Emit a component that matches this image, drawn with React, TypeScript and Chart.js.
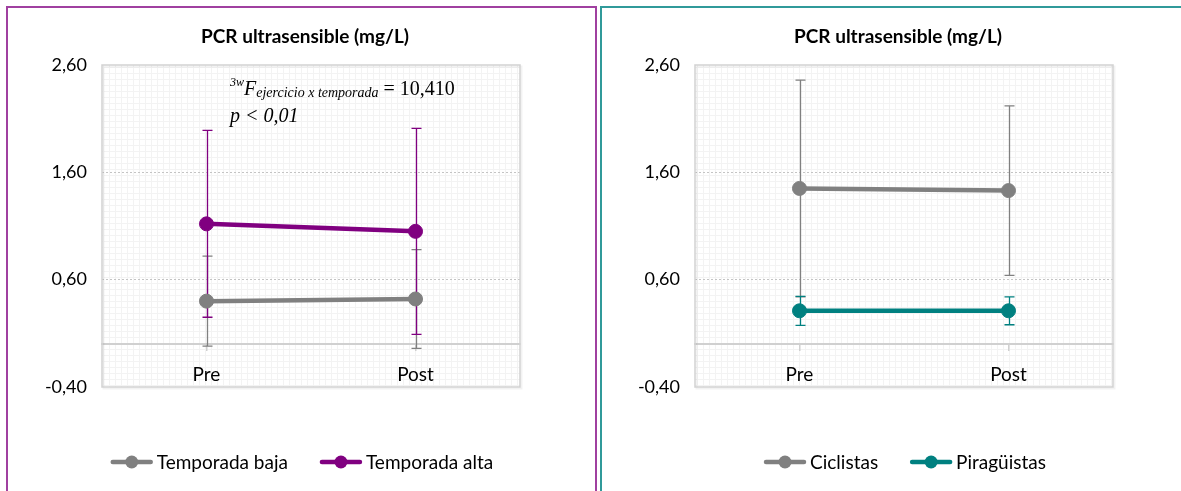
import React, { useEffect, useRef } from 'react';
import { Chart, registerables } from 'chart.js';

Chart.register(...registerables);

// ---------- DATA ----------
const categories = ['Pre', 'Post'];
const yTickValues = [-0.4, 0.6, 1.6, 2.6];
const chartTitle = 'PCR ultrasensible (mg/L)';

// Left chart (season)
const bajaLabel = 'Temporada baja';
const bajaMeans = [0.4, 0.42];
const bajaSD = [0.42, 0.46];
const altaLabel = 'Temporada alta';
const altaMeans = [1.12, 1.05];
const altaSD = [0.87, 0.96];

// Right chart (sport)
const ciclistasLabel = 'Ciclistas';
const ciclistasMeans = [1.45, 1.43];
const ciclistasSD = [1.01, 0.79];
const piraguistasLabel = 'Piragüistas';
const piraguistasMeans = [0.31, 0.31];
const piraguistasSD = [0.135, 0.13];

// ---------- STYLE ----------
const GRAY = '#808080';
const PURPLE = '#800080';
const TEAL = '#008080';
const FONT = 'Lato, "Open Sans", "Noto Sans", sans-serif';

let patternCanvas: HTMLCanvasElement | null = null;
function getPattern(ctx: CanvasRenderingContext2D) {
  if (!patternCanvas) {
    patternCanvas = document.createElement('canvas');
    patternCanvas.width = 6;
    patternCanvas.height = 6;
    const p = patternCanvas.getContext('2d')!;
    p.fillStyle = '#ffffff';
    p.fillRect(0, 0, 6, 6);
    p.fillStyle = '#f3f3f3';
    p.fillRect(5, 0, 1, 6);
    p.fillRect(0, 5, 6, 1);
  }
  return ctx.createPattern(patternCanvas, 'repeat');
}

const plotAreaPlugin = {
  id: 'plotArea',
  beforeDraw(chart: any) {
    const { ctx, chartArea: a } = chart;
    ctx.save();
    ctx.fillStyle = getPattern(ctx) || '#fff';
    ctx.fillRect(a.left, a.top, a.right - a.left, a.bottom - a.top);
    ctx.restore();
  },
  beforeDatasetsDraw(chart: any) {
    const { ctx, chartArea: a } = chart;
    ctx.save();
    ctx.strokeStyle = 'rgba(0,0,0,0.05)';
    ctx.lineWidth = 2;
    ctx.strokeRect(a.left + 1.5, a.top + 1.5, a.right - a.left, a.bottom - a.top);
    ctx.strokeStyle = '#d2d2d2';
    ctx.lineWidth = 1.5;
    ctx.strokeRect(a.left, a.top, a.right - a.left, a.bottom - a.top);
    ctx.restore();
  },
};

const errorBarPlugin = {
  id: 'errorBars',
  beforeDatasetsDraw(chart: any) {
    const ctx = chart.ctx;
    const yScale = chart.scales.y;
    chart.data.datasets.forEach((ds: any, i: number) => {
      const meta = chart.getDatasetMeta(i);
      if (meta.hidden || !ds.errors) return;
      ctx.save();
      ctx.strokeStyle = ds.borderColor;
      ctx.lineWidth = 1.3;
      meta.data.forEach((pt: any, j: number) => {
        const v = ds.data[j];
        const e = ds.errors[j];
        const x = Math.round(pt.x) + 0.5;
        const top = yScale.getPixelForValue(v + e);
        const bot = yScale.getPixelForValue(v - e);
        ctx.beginPath();
        ctx.moveTo(x, top);
        ctx.lineTo(x, bot);
        ctx.moveTo(x - 5, top);
        ctx.lineTo(x + 5, top);
        ctx.moveTo(x - 5, bot);
        ctx.lineTo(x + 5, bot);
        ctx.stroke();
      });
      ctx.restore();
    });
  },
};

const titlePlugin = {
  id: 'centerTitle',
  afterDraw(chart: any, _args: any, opts: any) {
    const ctx = chart.ctx;
    ctx.save();
    ctx.font = `bold 19px ${FONT}`;
    ctx.fillStyle = '#000';
    ctx.textAlign = 'center';
    ctx.textBaseline = 'middle';
    ctx.fillText(opts.text, opts.center ?? chart.width / 2, opts.y);
    ctx.restore();
  },
};

const legendPlugin = {
  id: 'lineLegend',
  afterDraw(chart: any, _args: any, opts: any) {
    const ctx = chart.ctx;
    const y = opts.y;
    const symW = 42;
    const gapText = 4;
    const gapItem = 32;
    ctx.save();
    ctx.font = `19px ${FONT}`;
    const items = chart.data.datasets.map((ds: any) => ({
      label: ds.label,
      color: ds.borderColor,
      w: symW + gapText + ctx.measureText(ds.label).width,
    }));
    const total = items.reduce((s: number, it: any) => s + it.w, 0) + gapItem * (items.length - 1);
    let x = (opts.center ?? chart.width / 2) - total / 2;
    items.forEach((it: any) => {
      ctx.strokeStyle = it.color;
      ctx.lineWidth = 4.5;
      ctx.lineCap = 'round';
      ctx.beginPath();
      ctx.moveTo(x + 2, y);
      ctx.lineTo(x + symW - 2, y);
      ctx.stroke();
      ctx.fillStyle = it.color;
      ctx.beginPath();
      ctx.arc(x + symW / 2, y, 6.5, 0, Math.PI * 2);
      ctx.fill();
      ctx.fillStyle = '#000';
      ctx.textBaseline = 'middle';
      ctx.textAlign = 'left';
      ctx.fillText(it.label, x + symW + gapText, y + 1);
      x += it.w + gapItem;
    });
    ctx.restore();
  },
};

function makeDataset(label: string, data: number[], errors: number[], color: string) {
  return {
    label,
    data,
    errors,
    borderColor: color,
    backgroundColor: color,
    borderWidth: 4.5,
    pointRadius: 7,
    pointBorderWidth: 1,
    pointHoverRadius: 7,
    pointBackgroundColor: color,
    pointBorderColor: color,
    tension: 0,
    clip: false,
  };
}

const fmt = (v: number) => v.toFixed(2).replace('.', ',');

type PanelProps = {
  datasets: any[];
  left: number;
  width: number;
  height: number;
  yAxisWidth: number;
  padRight: number;
  titleCenter: number;
  legendCenter: number;
};

function PanelChart({ datasets, left, width, height, yAxisWidth, padRight, titleCenter, legendCenter }: PanelProps) {
  const ref = useRef<HTMLCanvasElement>(null);
  useEffect(() => {
    if (!ref.current) return;
    const chart = new Chart(ref.current, {
      type: 'line',
      data: { labels: categories, datasets },
      plugins: [plotAreaPlugin, errorBarPlugin, titlePlugin, legendPlugin],
      options: {
        animation: false,
        responsive: false,
        maintainAspectRatio: false,
        events: [],
        layout: { padding: { left: 0, right: padRight, top: 57, bottom: 104 } },
        plugins: {
          legend: { display: false },
          tooltip: { enabled: false },
          title: { display: false },
          centerTitle: { text: chartTitle, center: titleCenter, y: 29 },
          lineLegend: { y: 454, center: legendCenter },
        } as any,
        scales: {
          x: {
            type: 'category',
            offset: true,
            position: { y: 0 } as any,
            grid: {
              display: true,
              drawOnChartArea: false,
              drawTicks: true,
              tickLength: 6,
              color: '#d0d0d0',
              lineWidth: 1.5,
            },
            border: { display: true, color: '#d0d0d0', width: 2 },
            ticks: {
              color: '#000',
              font: { family: FONT, size: 19 },
              padding: 13,
            },
          },
          y: {
            min: -0.4,
            max: 2.6,
            afterBuildTicks: (scale: any) => {
              scale.ticks = yTickValues.map((v) => ({ value: v }));
            },
            afterFit: (scale: any) => {
              scale.width = yAxisWidth;
            },
            grid: {
              drawTicks: false,
              color: (c: any) =>
                c.tick && (c.index === 0 || c.index === yTickValues.length - 1) ? 'rgba(0,0,0,0)' : '#c4c4c4',
              lineWidth: 1,
            },
            border: { display: false, dash: [2, 2] },
            ticks: {
              color: '#000',
              font: { family: FONT, size: 18 },
              padding: 15,
              callback: (v: any) => fmt(Number(v)),
            },
          },
        },
      } as any,
    });
    return () => chart.destroy();
  }, []);
  return (
    <canvas
      ref={ref}
      width={width}
      height={height}
      style={{ position: 'absolute', left, top: 8, width, height }}
    />
  );
}

export default function App() {
  useEffect(() => {
    document.body.style.margin = '0';
  }, []);

  const leftDatasets = [
    makeDataset(bajaLabel, bajaMeans, bajaSD, GRAY),
    makeDataset(altaLabel, altaMeans, altaSD, PURPLE),
  ];
  const rightDatasets = [
    makeDataset(ciclistasLabel, ciclistasMeans, ciclistasSD, GRAY),
    makeDataset(piraguistasLabel, piraguistasMeans, piraguistasSD, TEAL),
  ];

  return (
    <div
      style={{
        position: 'relative',
        width: 1181,
        height: 491,
        overflow: 'hidden',
        background: '#fff',
      }}
    >
      <div
        style={{
          position: 'absolute',
          left: 6,
          top: 6,
          width: 591,
          height: 500,
          boxSizing: 'border-box',
          border: '2px solid #a040a0',
        }}
      />
      <div
        style={{
          position: 'absolute',
          left: 600,
          top: 6,
          width: 600,
          height: 500,
          boxSizing: 'border-box',
          border: '2px solid #309a9a',
        }}
      />
      <PanelChart
        datasets={leftDatasets}
        left={8}
        width={588}
        height={483}
        yAxisWidth={94}
        padRight={76}
        titleCenter={297}
        legendCenter={294}
      />
      <PanelChart
        datasets={rightDatasets}
        left={602}
        width={600}
        height={483}
        yAxisWidth={93}
        padRight={89}
        titleCenter={296}
        legendCenter={303}
      />
      <div
        style={{
          position: 'absolute',
          left: 230,
          top: 76,
          fontFamily: '"Liberation Serif", "DejaVu Serif", serif',
          fontSize: 20,
          lineHeight: '24px',
          color: '#000',
          whiteSpace: 'nowrap',
        }}
      >
        <div>
          <span style={{ fontSize: 12, fontStyle: 'italic', position: 'relative', top: -9 }}>3w</span>
          <span style={{ fontStyle: 'italic' }}>F</span>
          <span style={{ fontSize: 14, fontStyle: 'italic', position: 'relative', top: 2 }}>
            ejercicio x temporada
          </span>
          <span> = 10,410</span>
        </div>
        <div style={{ fontStyle: 'italic' }}>p &lt; 0,01</div>
      </div>
    </div>
  );
}
